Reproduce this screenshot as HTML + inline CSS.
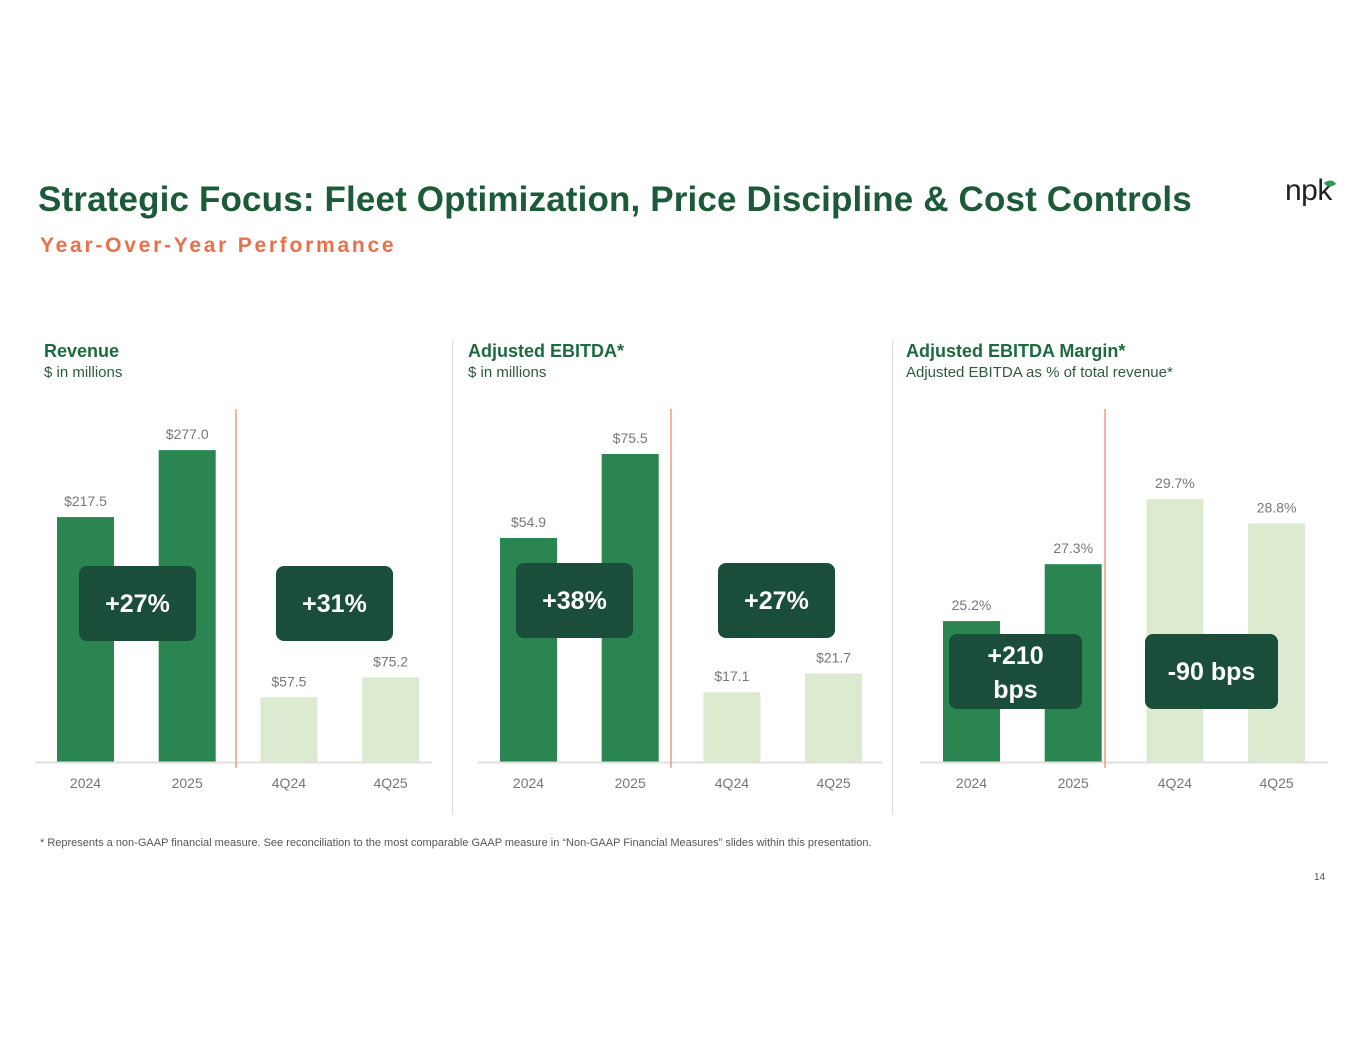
<!DOCTYPE html>
<html><head><meta charset="utf-8"><style>
body{margin:0;width:1365px;height:1055px;background:#fff;font-family:"Liberation Sans",sans-serif;position:relative;overflow:hidden}
.a{position:absolute;white-space:nowrap}
.title{left:38px;top:180px;font-size:35px;font-weight:bold;color:#1d5a3a;letter-spacing:0.15px}
.sub{left:40px;top:234px;font-size:21px;font-weight:bold;color:#e8714c;letter-spacing:2.75px}
.ct{font-size:18px;font-weight:bold;color:#1e6a40}
.cs{font-size:15px;color:#2f5a3f}
.vsep{position:absolute;width:1px;background:#ddd;top:340px;height:475px}
</style></head><body>
<div class="a title">Strategic Focus: Fleet Optimization, Price Discipline &amp; Cost Controls</div>
<div class="a sub">Year-Over-Year Performance</div>
<div class="a" style="left:1285px;top:174px;font-size:30px;color:#222;letter-spacing:-0.5px">np<span style="position:relative">k<span style="position:absolute;left:8px;top:6px;width:10px;height:7px;background:#2e9a4a;border-radius:0 8px 0 8px;transform:rotate(-30deg)"></span></span></div>
<div class="a ct" style="left:44px;top:341px">Revenue</div>
<div class="a cs" style="left:44px;top:364px">$ in millions</div>
<div class="a ct" style="left:468px;top:341px">Adjusted EBITDA*</div>
<div class="a cs" style="left:468px;top:364px">$ in millions</div>
<div class="a ct" style="left:906px;top:341px">Adjusted EBITDA Margin*</div>
<div class="a cs" style="left:906px;top:364px">Adjusted EBITDA as % of total revenue*</div>
<div class="vsep" style="left:452px"></div>
<div class="vsep" style="left:892px"></div>
<div class="a" style="left:40px;top:837px;font-size:11px;color:#555">* Represents a non-GAAP financial measure. See reconciliation to the most comparable GAAP measure in “Non-GAAP Financial Measures” slides within this presentation.</div>
<div class="a" style="left:1314px;top:872px;font-size:10px;color:#555">14</div>
<svg id="chart" width="1365" height="1055" style="position:absolute;left:0;top:0"></svg>
<script>
const categories=["2024","2025","4Q24","4Q25"];
const revenueValues=[217.5,277.0,57.5,75.2];
const revenueLabels=["$217.5","$277.0","$57.5","$75.2"];
const ebitdaValues=[54.9,75.5,17.1,21.7];
const ebitdaLabels=["$54.9","$75.5","$17.1","$21.7"];
const marginValues=[25.2,27.3,29.7,28.8];
const marginLabels=["25.2%","27.3%","29.7%","28.8%"];
const badges1=["+27%","+31%"];
const badges2=["+38%","+27%"];
const badges3=[["+210","bps"],["-90 bps"]];
const NS="http://www.w3.org/2000/svg";
const svg=document.getElementById('chart');
function mk(t,a,p){const e=document.createElementNS(NS,t);for(const k in a)e.setAttribute(k,a[k]);(p||svg).appendChild(e);return e;}
const base=762;
const charts=[
 {name:'revenue',vals:revenueValues,labels:revenueLabels,x0:57,min:0,scale:1.126,axis:[35,432],div:236,badges:badges1,bx:[79,276],by:566},
 {name:'ebitda',vals:ebitdaValues,labels:ebitdaLabels,x0:500,min:0,scale:4.08,axis:[478,882],div:671,badges:badges2,bx:[516,718],by:563},
 {name:'margin',vals:marginValues,labels:marginLabels,x0:943,min:20,scale:27.1,axis:[920,1328],div:1105,badges:badges3,bx:[949,1145],by:634}
];
charts.forEach(c=>{
 const y=v=>base-(v-c.min)*c.scale;
 const xb=i=>c.x0+i*101.7;
 const g=mk('g',{});
 
 
 c.vals.forEach((v,i)=>{
  const r=mk('rect',{x:xb(i),y:y(v),width:57,height:base-y(v),fill:i<2?'#2a8550':'#dcebd0'},g);
  
  
  const t=mk('text',{x:xb(i)+28.5,y:y(v)-11,'text-anchor':'middle','font-size':14,fill:'#777','font-family':'Liberation Sans'},g);
  t.textContent=c.labels[i];
  
  
  const a=mk('text',{x:xb(i)+28.5,y:788,'text-anchor':'middle','font-size':14,fill:'#777','font-family':'Liberation Sans'},g);
  a.textContent=categories[i];
  
  
 });
 const ax=mk('line',{x1:c.axis[0],x2:c.axis[1],y1:base+0.5,y2:base+0.5,stroke:'#e0e0e0','stroke-width':2},g);
 
 
 const d=mk('line',{x1:c.div,x2:c.div,y1:409,y2:768,stroke:'#ef9a8a','stroke-width':1.5},g);
 
 
 c.badges.forEach((b,i)=>{
  const w=c.name==='margin'?133:117;
  const r=mk('rect',{x:c.bx[i],y:c.by,width:w,height:75,rx:8,fill:'#1a4d3a'},g);
  
  
  const lines=Array.isArray(b)?b:[b];
  lines.forEach((s,j)=>{
   const ty=lines.length===1?c.by+46:c.by+30+j*34;
   const t=mk('text',{x:c.bx[i]+w/2,y:ty,'text-anchor':'middle','font-size':25,'font-weight':'bold',fill:'#fff','font-family':'Liberation Sans'},g);
   t.textContent=s;
   
   
  });
 });
});
</script>
</body></html>
